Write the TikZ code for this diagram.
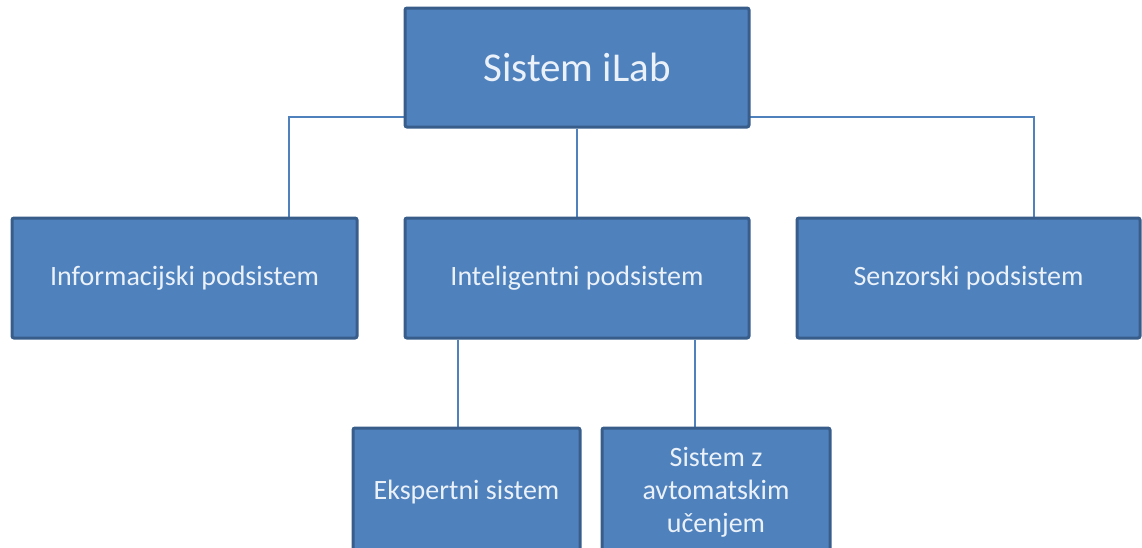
\documentclass[tikz,border=0pt]{standalone}
\usepackage{fontspec}
\setmainfont{Carlito}
\usetikzlibrary{backgrounds}
\definecolor{boxfill}{HTML}{4F81BD}
\definecolor{boxline}{HTML}{385D8A}
\definecolor{boxtext}{HTML}{EAF1F9}
\tikzset{
  orgbox/.style={draw=boxline, line width=3pt, fill=boxfill, rounded corners=2pt,
    text=boxtext, align=center, inner sep=0pt, font=\fontsize{28}{33}\selectfont},
  link/.style={draw=boxfill, line width=2.6pt}
}
\begin{document}
\begin{tikzpicture}[x=1pt,y=-1pt]
\useasboundingbox (0,0) rectangle (1142,547);
\clip (0,0) rectangle (1142,547);
\node[orgbox, minimum width=344pt, minimum height=119pt, font=\fontsize{41}{48}\selectfont] (root) at (577,67.5) {Sistem iLab};
\node[orgbox, minimum width=345pt, minimum height=120pt] (info) at (184.5,278) {Informacijski podsistem};
\node[orgbox, minimum width=344pt, minimum height=120pt] (intel) at (577,278) {Inteligentni podsistem};
\node[orgbox, minimum width=343pt, minimum height=120pt] (senz) at (968.5,278) {Senzorski podsistem};
\node[orgbox, minimum width=227pt, minimum height=128pt] (eksp) at (466.5,492) {Ekspertni sistem};
\node[orgbox, minimum width=228pt, minimum height=128pt] (avto) at (716,492) {Sistem z\\avtomatskim\\učenjem};
\coordinate (bus) at (577,117);
\begin{scope}[on background layer]
  \draw[link] ([xshift=104.5pt]info.north) |- (bus) -| ([xshift=65.5pt]senz.north);
  \draw[link] (root.south) -- (intel.north);
  \draw[link] ([xshift=-8.5pt]eksp.north) -- ([xshift=-8.5pt]eksp.north |- intel.south);
  \draw[link] ([xshift=-21pt]avto.north) -- ([xshift=-21pt]avto.north |- intel.south);
\end{scope}
\end{tikzpicture}
\end{document}
